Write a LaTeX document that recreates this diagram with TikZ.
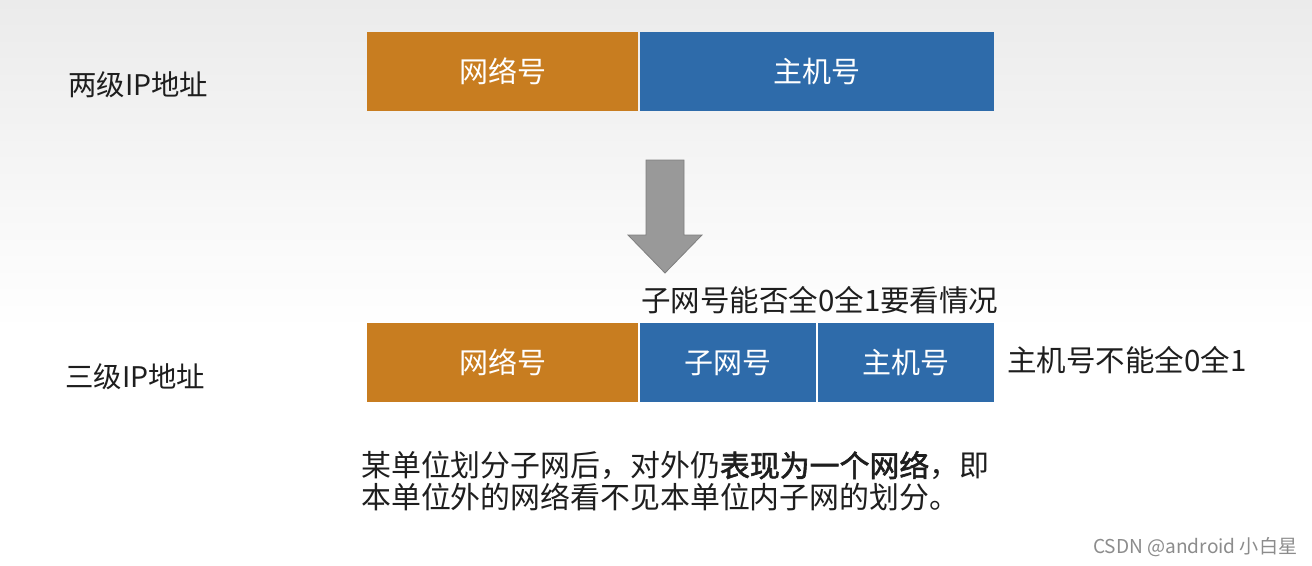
\documentclass[tikz,border=0pt]{standalone}
\usepackage{fontspec}
\setmainfont{Noto Sans CJK SC}
\newfontfamily\cjk{Noto Sans CJK SC}
\newfontfamily\cjkbold[FakeBold=2]{Noto Sans CJK SC}
\definecolor{netorange}{HTML}{C87D20}
\definecolor{hostblue}{HTML}{2E6BAA}
\definecolor{txt}{HTML}{1E1E1E}
\definecolor{bgtop}{HTML}{EBEBEB}
\definecolor{arrowfill}{HTML}{999999}
\definecolor{arrowline}{HTML}{7F7F7F}
\begin{document}
\begin{tikzpicture}[x=1pt,y=-1pt,
  field/.style={anchor=north west, inner sep=0pt, minimum height=79pt, text=white, font=\cjk\fontsize{29}{32}\selectfont},
  label/.style={text=txt, inner sep=0pt, font=\cjk\fontsize{28.4}{32}\selectfont},
  note/.style={text=txt, inner sep=0pt, anchor=west, font=\cjk\fontsize{29.5}{32}\selectfont}]
\useasboundingbox (0,0) rectangle (1312,565);
\shade[top color=bgtop, bottom color=white] (0,0) rectangle (1312,330);
\fill[white] (0,329) rectangle (1312,565);
% two-level
\node[label, anchor=west] (two) at (68,85) {两级IP地址};
\node[field, fill=netorange, minimum width=271pt] (net1) at (367,32) {网络号};
\node[field, fill=hostblue, minimum width=354pt] (host1) at (640,32) {主机号};
% arrow
\filldraw[fill=arrowfill, draw=arrowline, line width=0.8pt]
  (646,160) -- (684,160) -- (684,235) -- (702,235) -- (665,273) -- (628,235) -- (646,235) -- cycle;
% three-level
\node[note] (subnote) at (641,300) {子网号能否全0全1要看情况};
\node[label, anchor=west] (three) at (65,377) {三级IP地址};
\node[field, fill=netorange, minimum width=271pt] (net2) at (367,323) {网络号};
\node[field, fill=hostblue, minimum width=176pt] (sub2) at (640,323) {子网号};
\node[field, fill=hostblue, minimum width=176pt] (host2) at (818,323) {主机号};
\node[note] (hostnote) at (1007,360) {主机号不能全0全1};
% explanation
\node[text=txt, inner sep=0pt, anchor=north west, align=left, font=\cjk\fontsize{29.9}{32}\selectfont] (expl) at (361,451)
  {某单位划分子网后，对外仍{\cjkbold 表现为一个网络}，即\\本单位外的网络看不见本单位内子网的划分。};
% watermark
\node[text=black!45, inner sep=0pt, anchor=west, font=\cjk\fontsize{19.1}{21}\selectfont] (wm) at (1093,547) {CSDN @android 小白星};
\end{tikzpicture}
\end{document}
